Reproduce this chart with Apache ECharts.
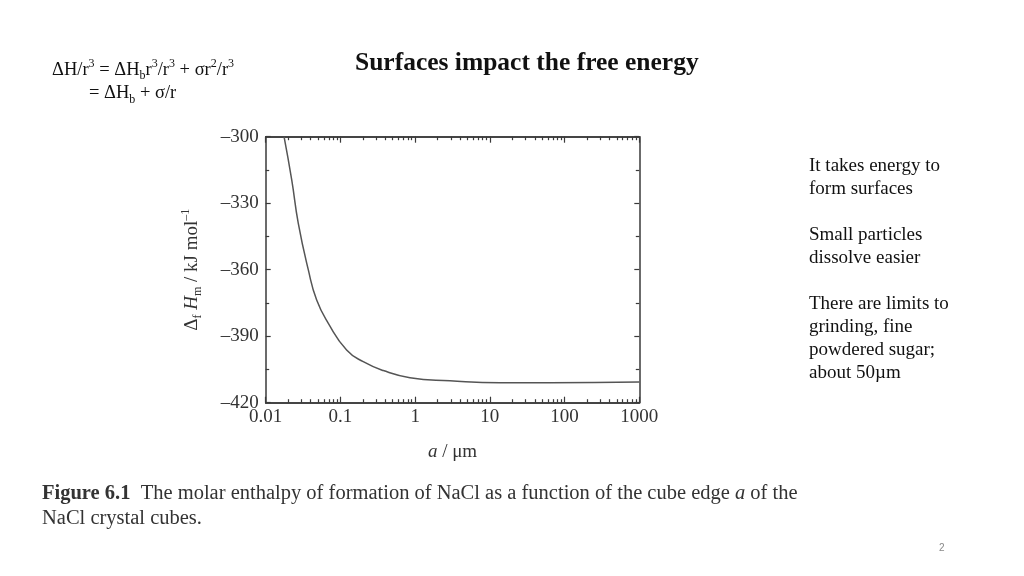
<!DOCTYPE html>
<html>
<head>
<meta charset="utf-8">
<script src="https://cdn.jsdelivr.net/npm/echarts@6/dist/echarts.min.js"></script>
<style>html,body{margin:0;padding:0;background:#fff;}#c{width:1024px;height:576px;}</style>
</head>
<body>
<div id="c"></div>
<script>
// Data
const aValues = [0.0176, 0.0223, 0.0273, 0.0372, 0.0481, 0.0689, 0.121, 0.202, 0.375, 0.853, 2.93, 13.7, 63.8, 1000];
const hValues = [-300, -319.5, -339.1, -360.1, -373.7, -384.2, -396.2, -401.5, -405.5, -408.7, -410.1, -411.0, -411.0, -410.7];
const xTickLabels = ['0.01', '0.1', '1', '10', '100', '1000'];
const xMajorTicks = [0.01, 0.1, 1, 10, 100, 1000];
const xMinorTicks = [0.02,0.03,0.04,0.05,0.06,0.07,0.08,0.09,
  0.2,0.3,0.4,0.5,0.6,0.7,0.8,0.9,
  2,3,4,5,6,7,8,9,
  20,30,40,50,60,70,80,90,
  200,300,400,500,600,700,800,900];
const yTicks = [-420, -390, -360, -330, -300];

const serif = '"Liberation Serif", "DejaVu Serif", serif';
const axisColor = '#3a3a3a';

const chart = echarts.init(document.getElementById('c'));

const xBase = {
  type: 'log', logBase: 10, min: 0.01, max: 1000,
  gridIndex: 0,
  splitLine: { show: false },
  axisLine: { show: true, lineStyle: { color: axisColor, width: 1.5 } }
};

function xAxisDef(position, minor, withLabels) {
  return Object.assign({}, xBase, {
    position: position,
    axisTick: {
      show: true, inside: true, length: minor ? 3.5 : 6,
      lineStyle: { color: axisColor, width: 1.2 },
      customValues: minor ? xMinorTicks : xMajorTicks
    },
    axisLabel: withLabels ? {
      show: true, customValues: xMajorTicks,
      fontFamily: serif, fontSize: 19, color: '#333', margin: 5,
      formatter: function (v) {
        const i = xMajorTicks.findIndex(t => Math.abs(Math.log10(t) - Math.log10(v)) < 1e-6);
        return i >= 0 ? xTickLabels[i] : '';
      }
    } : { show: false },
    name: withLabels ? '{i|a}{n| / μm}' : '',
    nameLocation: 'middle',
    nameGap: 40,
    nameTextStyle: {
      rich: {
        i: { fontFamily: serif, fontSize: 19, fontStyle: 'italic', color: '#333' },
        n: { fontFamily: serif, fontSize: 19, color: '#333' }
      }
    }
  });
}

const yBase = {
  type: 'value', min: -420, max: -300, interval: 30,
  splitLine: { show: false },
  axisLine: { show: true, lineStyle: { color: axisColor, width: 1.5 } },
  axisTick: { show: true, inside: true, length: 5, lineStyle: { color: axisColor, width: 1.2 } },
  minorTick: { show: true, splitNumber: 2, length: 3.5, lineStyle: { color: axisColor, width: 1.2 } }
};

const option = {
  backgroundColor: '#fff',
  animation: false,
  grid: { left: 265.7, right: 384.7, top: 136.7, bottom: 173.3, containLabel: false },
  xAxis: [
    xAxisDef('bottom', false, true),
    xAxisDef('bottom', true, false),
    xAxisDef('top', false, false),
    xAxisDef('top', true, false)
  ],
  yAxis: [
    Object.assign({}, yBase, {
      position: 'left',
      axisLabel: {
        fontFamily: serif, fontSize: 19, color: '#333', margin: 7,
        formatter: function (v) {
          const i = yTicks.indexOf(v);
          return i >= 0 ? '\u2013' + Math.abs(yTicks[i]) : '';
        }
      },
      name: '{d|Δ}{sb|f}{i| H}{sb|m}{n| / kJ mol}{sp|–1}',
      nameLocation: 'middle',
      nameGap: 62,
      nameRotate: 90,
      nameTextStyle: {
        rich: {
          d: { fontFamily: serif, fontSize: 19, color: '#333', lineHeight: 24, verticalAlign: 'middle' },
          i: { fontFamily: serif, fontSize: 19, fontStyle: 'italic', color: '#333', lineHeight: 24, verticalAlign: 'middle' },
          n: { fontFamily: serif, fontSize: 19, color: '#333', lineHeight: 24, verticalAlign: 'middle' },
          sb: { fontFamily: serif, fontSize: 12, color: '#333', lineHeight: 12, verticalAlign: 'bottom' },
          sp: { fontFamily: serif, fontSize: 12, color: '#333', lineHeight: 12, verticalAlign: 'top' }
        }
      }
    }),
    Object.assign({}, yBase, { position: 'right', axisLabel: { show: false } })
  ],
  series: [{
    type: 'line',
    xAxisIndex: 0, yAxisIndex: 0,
    data: aValues.map((a, i) => [a, hValues[i]]),
    showSymbol: false,
    smooth: 0.5,
    lineStyle: { color: '#555', width: 1.5 },
    clip: true
  }],
  graphic: [
    {
      type: 'text', left: 355, top: 50,
      style: { text: 'Surfaces impact the free energy', font: 'bold 25.5px ' + serif, fill: '#111' }
    },
    {
      type: 'text', left: 52, top: 58,
      style: {
        text: '{n|ΔH/r}{sp|3}{n| = ΔH}{sb|b}{n|r}{sp|3}{n|/r}{sp|3}{n| + σr}{sp|2}{n|/r}{sp|3}',
        rich: {
          n: { fontFamily: serif, fontSize: 18.5, fill: '#111', lineHeight: 24, verticalAlign: 'middle' },
          sp: { fontFamily: serif, fontSize: 12, fill: '#111', lineHeight: 14, verticalAlign: 'top' },
          sb: { fontFamily: serif, fontSize: 12, fill: '#111', lineHeight: 12, verticalAlign: 'bottom' }
        }
      }
    },
    {
      type: 'text', left: 89, top: 84,
      style: {
        text: '{n|= ΔH}{sb|b}{n| + σ/r}',
        rich: {
          n: { fontFamily: serif, fontSize: 18.5, fill: '#111', lineHeight: 24, verticalAlign: 'middle' },
          sb: { fontFamily: serif, fontSize: 12, fill: '#111', lineHeight: 12, verticalAlign: 'bottom' }
        }
      }
    },
    {
      type: 'text', left: 809, top: 155,
      style: {
        text: 'It takes energy to\nform surfaces\n\nSmall particles\ndissolve easier\n\nThere are limits to\ngrinding, fine\npowdered sugar;\nabout 50µm',
        font: '19px ' + serif, fill: '#111', lineHeight: 23
      }
    },
    {
      type: 'text', left: 42, top: 483,
      style: {
        text: '{b|Figure 6.1}{n|  The molar enthalpy of formation of NaCl as a function of the cube edge }{i|a}{n| of the}\n{n|NaCl crystal cubes.}',
        rich: {
          b: { fontFamily: serif, fontSize: 20.5, fontWeight: 'bold', fill: '#333', lineHeight: 25 },
          n: { fontFamily: serif, fontSize: 20.5, fill: '#333', lineHeight: 25 },
          i: { fontFamily: serif, fontSize: 20.5, fontStyle: 'italic', fill: '#333', lineHeight: 25 }
        }
      }
    },
    {
      type: 'text', left: 939, top: 543,
      style: { text: '2', font: '10px "Liberation Sans", sans-serif', fill: '#888' }
    }
  ]
};
chart.setOption(option);
</script>
</body>
</html>
